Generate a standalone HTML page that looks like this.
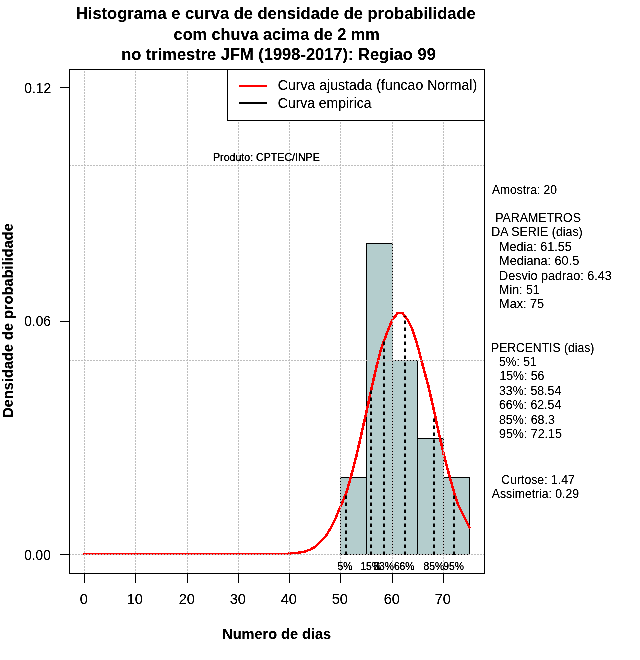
<!DOCTYPE html>
<html lang="pt"><head><meta charset="utf-8"><title>Histograma e curva de densidade de probabilidade</title>
<style>html,body{margin:0;padding:0;background:#fff}svg{display:block}text{font-family:"Liberation Sans",Arial,Helvetica,sans-serif;fill:#000}.b{font-weight:bold}.crisp{shape-rendering:crispEdges}</style></head><body>
<svg width="640" height="660" viewBox="0 0 640 660">
<defs><filter id="th" x="0" y="0" width="640" height="660" filterUnits="userSpaceOnUse" color-interpolation-filters="sRGB"><feComponentTransfer><feFuncA type="linear" slope="2.4" intercept="-0.55"/></feComponentTransfer></filter></defs>
<rect width="640" height="660" fill="#fff"/>
<g class="crisp">
<rect x="340.5" y="477.5" width="26.0" height="77.0" fill="#b4cdcd" stroke="#000" stroke-width="1"/>
<rect x="366.5" y="243.5" width="26.0" height="311.0" fill="#b4cdcd" stroke="#000" stroke-width="1"/>
<rect x="392.5" y="360.5" width="25.0" height="194.0" fill="#b4cdcd" stroke="#000" stroke-width="1"/>
<rect x="417.5" y="438.5" width="26.0" height="116.0" fill="#b4cdcd" stroke="#000" stroke-width="1"/>
<rect x="443.5" y="477.5" width="26.0" height="77.0" fill="#b4cdcd" stroke="#000" stroke-width="1"/>
</g>
<path d="M84.5 554L89.5 554M89.5 554L94.5 554M94.5 554L99.5 554M99.5 554L104.5 554M104.5 554L110.5 554M110.5 554L115.5 554M115.5 554L120.5 554M120.5 554L125.5 554M125.5 554L130.5 554M130.5 554L135.5 554M135.5 554L140.5 554M140.5 554L145.5 554M145.5 554L151.5 554M151.5 554L156.5 554M156.5 554L161.5 554M161.5 554L166.5 554M166.5 554L171.5 554M171.5 554L176.5 554M176.5 554L181.5 554M181.5 554L187.5 554M187.5 554L192.5 554M192.5 554L197.5 554M197.5 554L202.5 554M202.5 554L207.5 554M207.5 554L212.5 554M212.5 554L217.5 554M217.5 554L222.5 554M222.5 554L228.5 554M228.5 554L233.5 554M233.5 554L238.5 554M238.5 554L243.5 554M243.5 554L248.5 554M248.5 554L253.5 554M253.5 554L258.5 554M258.5 554L263.5 554M263.5 554L269.5 554M269.5 554L274.5 554M274.5 554L279.5 554M279.5 554L284.5 554M284.5 554L289.5 554M289.5 553L294.5 553M294.5 553L299.5 553M299.5 552L304.5 552M304.5 551.5L310.5 549.5M310.5 549.5L315.5 546.5M315.5 546.5L320.5 541.5M320.5 541.5L325.5 536.5M325.5 536.5L330.5 528.5M330.5 528.5L335.5 518.5M335.5 518.5L340.5 506.5M340.5 506.5L346.5 492.5M346.5 492.5L351.5 474.5M351.5 474.5L356.5 455.5M356.5 455.5L361.5 433.5M361.5 433.5L366.5 411.5M366.5 411.5L371.5 388.5M371.5 388.5L376.5 366.5M376.5 366.5L381.5 347.5M381.5 347.5L387.5 331.5M387.5 331.5L392.5 319.5M392.5 319.5L397.5 313.5M397.5 313L402.5 313M402.5 313.5L407.5 319.5M407.5 319.5L412.5 329.5M412.5 329.5L417.5 345.5M417.5 345.5L422.5 364.5M422.5 364.5L428.5 386.5M428.5 386.5L433.5 408.5M433.5 408.5L438.5 431.5M438.5 431.5L443.5 453.5M443.5 453.5L448.5 472.5M448.5 472.5L453.5 490.5M453.5 490.5L458.5 505.5M458.5 505.5L464.5 517.5M464.5 517.5L469.5 527.5" fill="none" stroke="#f00" stroke-width="2.5" stroke-linecap="round" shape-rendering="crispEdges"/>
<g class="crisp">
<line x1="84.5" y1="574" x2="84.5" y2="70" stroke="#bebebe" stroke-width="1" stroke-dasharray="2 1"/>
<line x1="135.5" y1="574" x2="135.5" y2="70" stroke="#bebebe" stroke-width="1" stroke-dasharray="2 1"/>
<line x1="187.5" y1="574" x2="187.5" y2="70" stroke="#bebebe" stroke-width="1" stroke-dasharray="2 1"/>
<line x1="238.5" y1="574" x2="238.5" y2="70" stroke="#bebebe" stroke-width="1" stroke-dasharray="2 1"/>
<line x1="289.5" y1="574" x2="289.5" y2="70" stroke="#bebebe" stroke-width="1" stroke-dasharray="2 1"/>
<line x1="340.5" y1="574" x2="340.5" y2="70" stroke="#bebebe" stroke-width="1" stroke-dasharray="2 1"/>
<line x1="392.5" y1="574" x2="392.5" y2="70" stroke="#bebebe" stroke-width="1" stroke-dasharray="2 1"/>
<line x1="443.5" y1="574" x2="443.5" y2="70" stroke="#bebebe" stroke-width="1" stroke-dasharray="2 1"/>
<line x1="69" y1="554.5" x2="484" y2="554.5" stroke="#bebebe" stroke-width="1" stroke-dasharray="2 1"/>
<line x1="69" y1="360.5" x2="484" y2="360.5" stroke="#bebebe" stroke-width="1" stroke-dasharray="2 1"/>
<line x1="69" y1="165.5" x2="484" y2="165.5" stroke="#bebebe" stroke-width="1" stroke-dasharray="2 1"/>
</g>
<g>
<line x1="346" y1="555" x2="346" y2="492.0" stroke="#000" stroke-width="2" stroke-dasharray="3.6 3.4"/>
<line x1="371" y1="555" x2="371" y2="388.3" stroke="#000" stroke-width="2" stroke-dasharray="3.6 3.4"/>
<line x1="384" y1="555" x2="384" y2="338.1" stroke="#000" stroke-width="2" stroke-dasharray="3.6 3.4"/>
<line x1="405" y1="555" x2="405" y2="315.9" stroke="#000" stroke-width="2" stroke-dasharray="3.6 3.4"/>
<line x1="434" y1="555" x2="434" y2="415.6" stroke="#000" stroke-width="2" stroke-dasharray="3.6 3.4"/>
<line x1="454" y1="555" x2="454" y2="492.8" stroke="#000" stroke-width="2" stroke-dasharray="3.6 3.4"/>
</g>
<g class="crisp">
<rect x="69.5" y="69.5" width="415.0" height="504.0" fill="none" stroke="#000" stroke-width="1"/>
<line x1="84.5" y1="573" x2="84.5" y2="583" stroke="#000" stroke-width="1"/>
<line x1="135.5" y1="573" x2="135.5" y2="583" stroke="#000" stroke-width="1"/>
<line x1="187.5" y1="573" x2="187.5" y2="583" stroke="#000" stroke-width="1"/>
<line x1="238.5" y1="573" x2="238.5" y2="583" stroke="#000" stroke-width="1"/>
<line x1="289.5" y1="573" x2="289.5" y2="583" stroke="#000" stroke-width="1"/>
<line x1="340.5" y1="573" x2="340.5" y2="583" stroke="#000" stroke-width="1"/>
<line x1="392.5" y1="573" x2="392.5" y2="583" stroke="#000" stroke-width="1"/>
<line x1="443.5" y1="573" x2="443.5" y2="583" stroke="#000" stroke-width="1"/>
<line x1="60" y1="87.5" x2="70" y2="87.5" stroke="#000" stroke-width="1"/>
<line x1="60" y1="321.5" x2="70" y2="321.5" stroke="#000" stroke-width="1"/>
<line x1="60" y1="554.5" x2="70" y2="554.5" stroke="#000" stroke-width="1"/>
<rect x="227.5" y="69.5" width="257" height="51" fill="#fff" stroke="#000" stroke-width="1"/>
<line x1="239" y1="86" x2="267" y2="86" stroke="#f00" stroke-width="2"/>
<line x1="239" y1="103" x2="267" y2="103" stroke="#000" stroke-width="2"/>
</g>
<g filter="url(#th)">
<text x="75.93" y="19" font-size="17" class="b" textLength="399.81" lengthAdjust="spacingAndGlyphs">Histograma e curva de densidade de probabilidade</text>
<text x="173.62" y="39.5" font-size="17" class="b" textLength="206.08" lengthAdjust="spacingAndGlyphs">com chuva acima de 2 mm</text>
<text x="121.13" y="60" font-size="17" class="b" textLength="314.67" lengthAdjust="spacingAndGlyphs">no trimestre JFM (1998-2017): Regiao 99</text>
<text x="222.22" y="639" font-size="14" class="b" textLength="108.83" lengthAdjust="spacingAndGlyphs">Numero de dias</text>
<text x="277.85" y="90.4" font-size="14" textLength="199.28" lengthAdjust="spacingAndGlyphs">Curva ajustada (funcao Normal)</text>
<text x="277.85" y="108.4" font-size="14" textLength="93.64" lengthAdjust="spacingAndGlyphs">Curva empirica</text>
<text x="24.22" y="93" font-size="14.5" textLength="26.87" lengthAdjust="spacingAndGlyphs">0.12</text>
<text x="24.28" y="326" font-size="14.5" textLength="26.58" lengthAdjust="spacingAndGlyphs">0.06</text>
<text x="24.28" y="560" font-size="14.5" textLength="26.47" lengthAdjust="spacingAndGlyphs">0.00</text>
<text x="213.04" y="161" font-size="10.5" textLength="106.74" lengthAdjust="spacingAndGlyphs" stroke="#000" stroke-width="0.15">Produto: CPTEC/INPE</text>
<text x="492.00" y="194" font-size="12" textLength="64.95" lengthAdjust="spacingAndGlyphs">Amostra: 20</text>
<text x="495.23" y="222" font-size="12" textLength="85.76" lengthAdjust="spacingAndGlyphs">PARAMETROS</text>
<text x="491.23" y="236.4" font-size="12" textLength="91.50" lengthAdjust="spacingAndGlyphs">DA SERIE (dias)</text>
<text x="499.11" y="250.8" font-size="12" textLength="72.69" lengthAdjust="spacingAndGlyphs">Media: 61.55</text>
<text x="499.11" y="265.2" font-size="12" textLength="80.08" lengthAdjust="spacingAndGlyphs">Mediana: 60.5</text>
<text x="499.11" y="279.6" font-size="12" textLength="112.71" lengthAdjust="spacingAndGlyphs">Desvio padrao: 6.43</text>
<text x="499.13" y="294" font-size="12" textLength="40.50" lengthAdjust="spacingAndGlyphs">Min: 51</text>
<text x="499.11" y="308.4" font-size="12" textLength="44.95" lengthAdjust="spacingAndGlyphs">Max: 75</text>
<text x="491.04" y="352" font-size="12" textLength="103.25" lengthAdjust="spacingAndGlyphs">PERCENTIS (dias)</text>
<text x="499.00" y="366" font-size="12" textLength="37.62" lengthAdjust="spacingAndGlyphs">5%: 51</text>
<text x="499.43" y="380.4" font-size="12" textLength="45.03" lengthAdjust="spacingAndGlyphs">15%: 56</text>
<text x="498.99" y="394.8" font-size="12" textLength="62.24" lengthAdjust="spacingAndGlyphs">33%: 58.54</text>
<text x="498.99" y="409.2" font-size="12" textLength="62.24" lengthAdjust="spacingAndGlyphs">66%: 62.54</text>
<text x="498.98" y="423.6" font-size="12" textLength="55.88" lengthAdjust="spacingAndGlyphs">85%: 68.3</text>
<text x="498.98" y="438" font-size="12" textLength="62.90" lengthAdjust="spacingAndGlyphs">95%: 72.15</text>
<text x="501.39" y="484" font-size="12" textLength="73.37" lengthAdjust="spacingAndGlyphs">Curtose: 1.47</text>
<text x="491.80" y="498.4" font-size="12" textLength="87.25" lengthAdjust="spacingAndGlyphs">Assimetria: 0.29</text>
<text transform="translate(12.8,417.78) rotate(-90)" font-size="14" class="b" textLength="194.55" lengthAdjust="spacingAndGlyphs">Densidade de probabilidade</text>
<text x="83.8" y="604" font-size="14.5" text-anchor="middle">0</text>
<text x="134.8" y="604" font-size="14.5" text-anchor="middle">10</text>
<text x="186.8" y="604" font-size="14.5" text-anchor="middle">20</text>
<text x="237.8" y="604" font-size="14.5" text-anchor="middle">30</text>
<text x="288.8" y="604" font-size="14.5" text-anchor="middle">40</text>
<text x="339.8" y="604" font-size="14.5" text-anchor="middle">50</text>
<text x="391.8" y="604" font-size="14.5" text-anchor="middle">60</text>
<text x="442.8" y="604" font-size="14.5" text-anchor="middle">70</text>
<text x="345.0" y="570" font-size="10.3" text-anchor="middle" stroke="#000" stroke-width="0.15">5%</text>
<text x="370.7" y="570" font-size="10.3" text-anchor="middle" stroke="#000" stroke-width="0.15">15%</text>
<text x="383.7" y="570" font-size="10.3" text-anchor="middle" stroke="#000" stroke-width="0.15">33%</text>
<text x="404.2" y="570" font-size="10.3" text-anchor="middle" stroke="#000" stroke-width="0.15">66%</text>
<text x="433.8" y="570" font-size="10.3" text-anchor="middle" stroke="#000" stroke-width="0.15">85%</text>
<text x="453.5" y="570" font-size="10.3" text-anchor="middle" stroke="#000" stroke-width="0.15">95%</text>
</g>
</svg></body></html>
